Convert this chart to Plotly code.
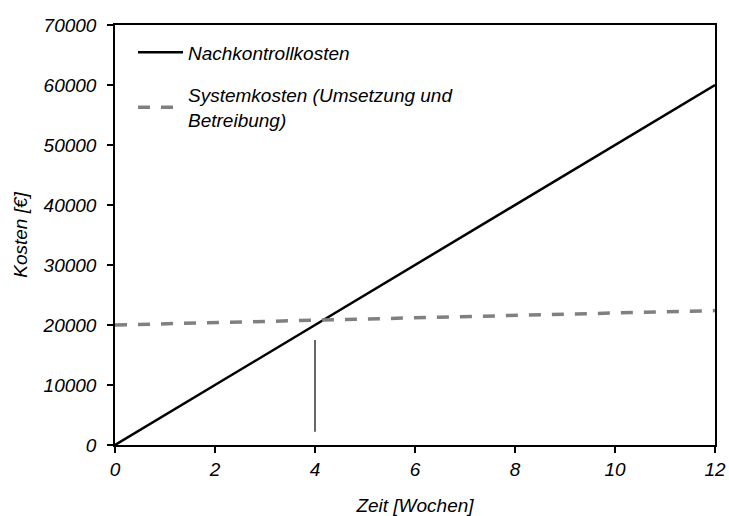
import plotly.graph_objects as go

weeks = [0, 12]
nachkontroll = [0, 60000]
system = [20000, 22400]
marker_x = [4, 4]
marker_y = [2200, 17500]

font_family = "Arial, Liberation Sans, sans-serif"

fig = go.Figure()
fig.add_trace(go.Scatter(x=weeks, y=nachkontroll, mode="lines", name="Nachkontrollkosten",
                         legendgroup="a",
                         line=dict(color="black", width=2.5)))
fig.add_trace(go.Scatter(x=weeks, y=system, mode="lines",
                         name="Systemkosten (Umsetzung und<br>Betreibung)",
                         legendgroup="b",
                         line=dict(color="#808080", width=3.5, dash="12px,11px")))
fig.add_trace(go.Scatter(x=marker_x, y=marker_y, mode="lines", showlegend=False,
                         line=dict(color="black", width=1.2)))

axis_common = dict(showgrid=False, zeroline=False, showline=True, linecolor="black",
                   linewidth=1.5, mirror=True, ticks="outside", ticklen=6, tickwidth=1.5,
                   tickcolor="black", automargin=False,
                   tickfont=dict(family=font_family, size=19, color="black", style="italic"))

fig.update_xaxes(range=[0, 12], tickvals=[0, 2, 4, 6, 8, 10, 12],
                 title=dict(text="Zeit [Wochen]", standoff=22,
                            font=dict(family=font_family, size=19, color="black", style="italic")),
                 **axis_common)
fig.update_yaxes(range=[0, 70000], tickvals=[0, 10000, 20000, 30000, 40000, 50000, 60000, 70000],
                 tickformat="d", ticklabelstandoff=7,
                 title=dict(text="Kosten [€]", standoff=10,
                            font=dict(family=font_family, size=19, color="black", style="italic")),
                 **axis_common)

fig.update_layout(
    width=729, height=516,
    margin=dict(l=115, r=14, t=25, b=71),
    plot_bgcolor="white", paper_bgcolor="white",
    showlegend=True,
    legend=dict(x=0.03, y=0.98, xanchor="left", yanchor="top",
                bgcolor="rgba(0,0,0,0)", traceorder="grouped", tracegroupgap=15,
                font=dict(family=font_family, size=19, color="black", style="italic"),
                itemwidth=45),
)

fig.write_html("out.html", config={"displayModeBar": False},
               post_script="document.body.style.margin='0';document.body.style.overflow='hidden';")
